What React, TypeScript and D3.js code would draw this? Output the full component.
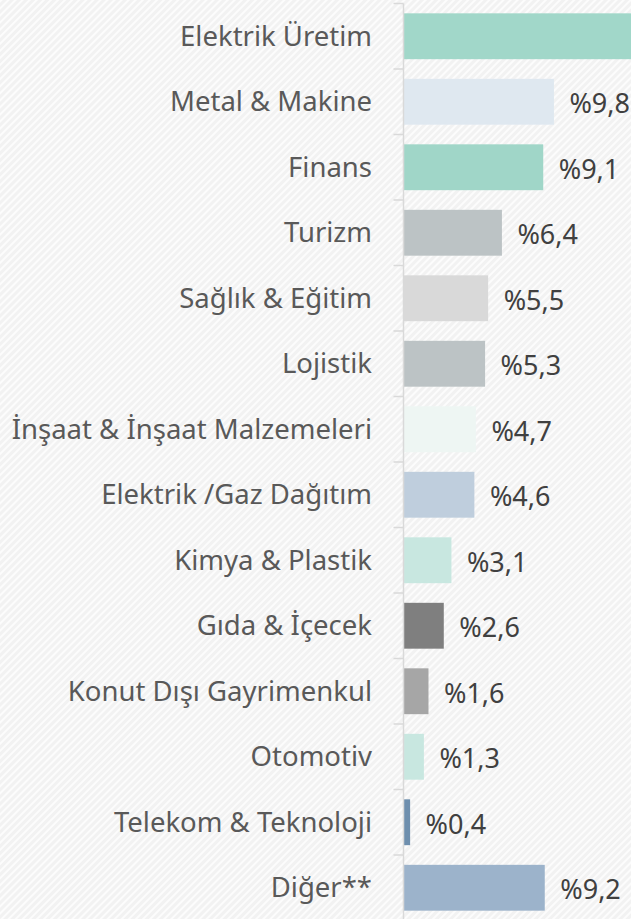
import React, { useEffect, useRef } from 'react';
import * as d3 from 'd3';

const categories = [
  'Elektrik Üretim',
  'Metal & Makine',
  'Finans',
  'Turizm',
  'Sağlık & Eğitim',
  'Lojistik',
  'İnşaat & İnşaat Malzemeleri',
  'Elektrik /Gaz Dağıtım',
  'Kimya & Plastik',
  'Gıda & İçecek',
  'Konut Dışı Gayrimenkul',
  'Otomotiv',
  'Telekom & Teknoloji',
  'Diğer**',
];
const values = [36.4, 9.8, 9.1, 6.4, 5.5, 5.3, 4.7, 4.6, 3.1, 2.6, 1.6, 1.3, 0.4, 9.2];
const colors = [
  '#a1d7c9', '#dfe8f0', '#a0d6c8', '#bcc3c5', '#d9d9d9', '#bcc3c5', '#eef6f3',
  '#bfcedd', '#c8e7e0', '#7f7f7f', '#a6a6a6', '#c8e7e0', '#6e8fae', '#9cb3cb',
];

const W = 631;
const H = 919;

export default function App() {
  const ref = useRef<SVGSVGElement>(null);

  useEffect(() => {
    document.body.style.margin = '0';
    const svg = d3.select(ref.current);
    svg.selectAll('*').remove();

    const defs = svg.append('defs');
    const pat = defs
      .append('pattern')
      .attr('id', 'hatch')
      .attr('width', 5)
      .attr('height', 5)
      .attr('patternUnits', 'userSpaceOnUse')
      .attr('patternTransform', 'rotate(45)');
    pat.append('rect').attr('width', 5).attr('height', 5).attr('fill', '#f2f2f2');
    pat.append('line').attr('x1', 1).attr('y1', 0).attr('x2', 1).attr('y2', 5)
      .attr('stroke', '#ffffff').attr('stroke-width', 1.6);

    svg.append('rect').attr('width', W).attr('height', H).attr('fill', 'url(#hatch)');

    const x0 = 403.5;
    const x = d3.scaleLinear().domain([0, 40]).range([x0, x0 + 612]);
    const y = d3.scaleBand<string>()
      .domain(categories)
      .range([3.5, 920.5])
      .paddingInner(0.3)
      .paddingOuter(0.15);

    const data = categories.map((c, i) => ({ c, v: values[i], col: colors[i] }));

    svg.append('g')
      .selectAll('rect')
      .data(data)
      .enter()
      .append('rect')
      .attr('x', x(0) + 0.5)
      .attr('y', d => y(d.c)!)
      .attr('width', d => x(d.v) - x(0))
      .attr('height', y.bandwidth())
      .attr('fill', d => d.col);

    // axis line and ticks
    const step = y.step();
    const axis = svg.append('g').attr('stroke', '#d9d9d9').attr('stroke-width', 1.5);
    axis.append('line').attr('x1', x0).attr('x2', x0).attr('y1', 3.5).attr('y2', H);
    axis.selectAll('.tick')
      .data(d3.range(categories.length + 1))
      .enter()
      .append('line')
      .attr('x1', x0 - 10)
      .attr('x2', x0)
      .attr('y1', i => 3.5 + i * step)
      .attr('y2', i => 3.5 + i * step);

    svg.append('g')
      .selectAll('text')
      .data(data)
      .enter()
      .append('text')
      .attr('x', 372)
      .attr('y', d => y(d.c)! + y.bandwidth() / 2)
      .attr('dy', '0.35em')
      .attr('text-anchor', 'end')
      .style('font-family', 'Noto Sans')
      .style('font-size', '27.5px')
      .attr('fill', '#595959')
      .text(d => d.c);

    // value labels (the first one lies past the right edge, as in the original)
    svg.append('g')
      .selectAll('text')
      .data(data.filter(d => x(d.v) < W))
      .enter()
      .append('text')
      .attr('x', d => x(d.v) + 16)
      .attr('y', d => y(d.c)! + y.bandwidth() / 2 + 2)
      .attr('dy', '0.35em')
      .style('font-family', 'Noto Sans')
      .style('font-size', '27px')
      .attr('fill', '#404040')
      .text(d => '%' + d3.format('.1f')(d.v).replace('.', ','));
  }, []);

  return <svg ref={ref} width={W} height={H} style={{ display: 'block' }} />;
}
